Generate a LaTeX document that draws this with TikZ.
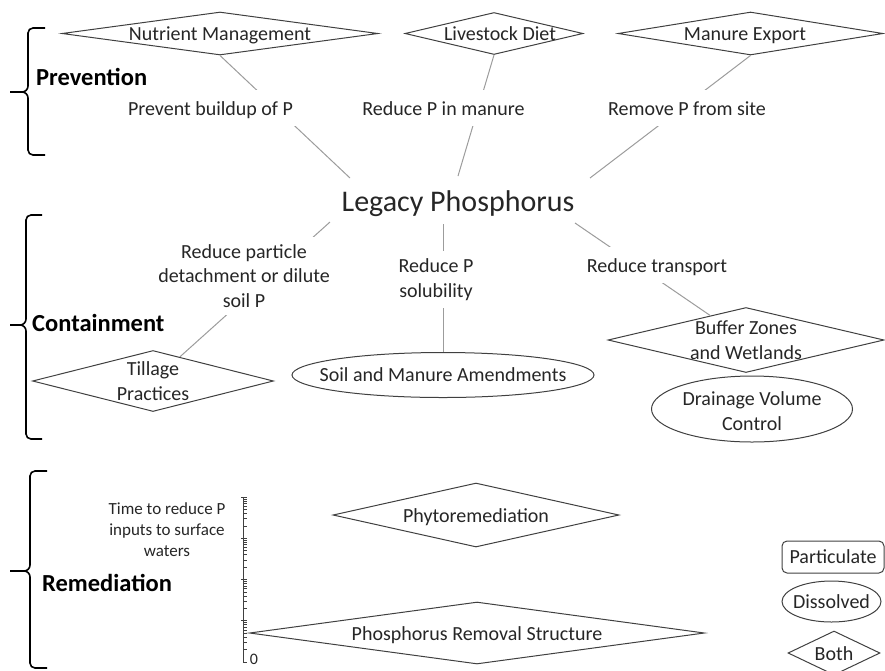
\documentclass[tikz,border=0pt]{standalone}
\usepackage{fontspec}
\setmainfont{Carlito}
\usetikzlibrary{shapes.geometric}
\definecolor{txt}{HTML}{262626}
\definecolor{edgec}{HTML}{404040}
\definecolor{connc}{HTML}{9C9C9C}
\begin{document}
\begin{tikzpicture}[x=1pt,y=-1pt,
  every node/.style={text=txt, font=\fontsize{20}{24.4}\selectfont},
  dia/.style={draw=edgec, line width=1pt, shape=diamond, inner sep=-8pt, align=center},
  oneline/.style={text height=17pt, text depth=3pt},
  lbl/.style={fill=white, inner xsep=4pt, inner ysep=8pt, align=center},
  cline/.style={draw=connc, line width=1pt},
  bracepath/.style={draw=black, line width=1.6pt},
  head/.style={font=\fontsize{24.5}{28}\selectfont\bfseries, text=black, anchor=west, inner sep=0pt},
  plain/.style={draw=none, inner sep=0pt, align=center},
  ell/.style={draw=edgec, line width=1pt},
  axisline/.style={draw=edgec, line width=1pt},
  tickline/.style={draw=edgec, line width=0.6pt},
]
\useasboundingbox (0,0) rectangle (885,670);

% braces
\draw[bracepath] (45,28) -- (33,28) to[out=180,in=90] (28,33) -- (28,86) to[out=-90,in=0] (22,92) -- (10,92);
\draw[bracepath] (10,92) -- (22,92) to[out=0,in=90] (28,98) -- (28,150) to[out=-90,in=180] (33,155) -- (45,155);
\draw[bracepath] (42,215) -- (31,215) to[out=180,in=90] (26,220) -- (26,319) to[out=-90,in=0] (20,325) -- (10,325);
\draw[bracepath] (10,325) -- (20,325) to[out=0,in=90] (26,331) -- (26,434) to[out=-90,in=180] (31,439) -- (42,439);
\draw[bracepath] (47,471) -- (35,471) to[out=180,in=90] (30,476) -- (30,565) to[out=-90,in=0] (24,571) -- (10,571);
\draw[bracepath] (10,571) -- (24,571) to[out=0,in=90] (30,577) -- (30,663) to[out=-90,in=180] (35,668) -- (47,668);

% headings
\node[head] (prev) at (36,77) {Prevention};
\node[head] (cont) at (32,323) {Containment};
\node[head] (rem) at (42,583) {Remediation};

% central node
\node[plain, font=\fontsize{30}{36}\selectfont] (lp) at (458,204) {Legacy Phosphorus};
\coordinate (lpnw) at (350,178);
\coordinate (lpn) at (458,176);
\coordinate (lpne) at (590,178);
\coordinate (lpsw) at (330,222);
\coordinate (lps) at (443,224);
\coordinate (lpse) at (575,223);

% prevention
\node[dia, oneline, minimum width=316, minimum height=43, aspect=7.3] (nm) at (220,33.5) {Nutrient Management};
\node[dia, oneline, minimum width=178, minimum height=42, aspect=4.2] (ld) at (494,33.5) {\hspace{12pt}Livestock Diet};
\node[dia, oneline, minimum width=265, minimum height=43, aspect=6.2] (me) at (750.5,33.5) {Manure Export\hspace{11pt}};
\draw[cline] (nm.south) -- (lpnw);
\draw[cline] (ld.south) -- (lpn);
\draw[cline] (me.south) -- (lpne);
\node[lbl, oneline] (l1) at (210.5,108) {Prevent buildup of P};
\node[lbl, oneline] (l2) at (443.5,108) {Reduce P in manure};
\node[lbl, oneline] (l3) at (687,108) {Remove P from site};

% containment
\node[dia, minimum width=241, minimum height=61, aspect=3.95] (till) at (153,381) {Tillage\\Practices};
\node[plain, minimum width=302, minimum height=45] (soil) at (443,375) {Soil and Manure Amendments};
\draw[ell] (soil.center) ellipse [x radius=151pt, y radius=22.5pt];
\node[dia, minimum width=276, minimum height=65, aspect=4.25] (buf) at (746,340) {Buffer Zones\\and Wetlands};
\node[plain, minimum width=201, minimum height=66] (drain) at (752,411) {Drainage Volume\\Control};
\draw[ell] (752,409) ellipse [x radius=100.5pt, y radius=33pt];
\draw[cline] (lpsw) -- (till);
\draw[cline] (lps) -- (soil.north);
\draw[cline] (lpse) -- (buf);
\node[lbl] (c1) at (244,276) {Reduce particle\\detachment or dilute\\soil P};
\node[lbl] (c2) at (436,279.5) {Reduce P\\solubility};
\node[lbl, oneline] (c3) at (657,265) {Reduce transport};

% remediation
\node[dia, oneline, minimum width=286, minimum height=64, aspect=4.47] (phyto) at (476,515) {Phytoremediation};
\node[dia, oneline, minimum width=455, minimum height=62, aspect=7.34] (prs) at (477,633) {Phosphorus Removal Structure};
\coordinate (axtop) at (243,497);
\coordinate (axbot) at (243,662);
\draw[axisline] (axtop) -- (axbot) -- ++(4,0);
\foreach \d in {0,1,2,3} {
  \foreach \k in {2,...,9} {
    \pgfmathsetmacro\yy{662-41.25*\d-41.25*ln(\k)/ln(10)}
    \draw[tickline] (243,\yy) -- (246.5,\yy);
  }
  \pgfmathsetmacro\yz{662-41.25*\d-41.25}
  \draw[tickline] (241,\yz) -- (247,\yz);
}
\node[plain, font=\fontsize{17}{21}\selectfont] (axlab) at (167,530) {Time to reduce P\\inputs to surface\\waters};
\node[plain, font=\fontsize{16}{19}\selectfont] (zero) at (254,659.5) {0};

% legend
\node[draw=edgec, line width=1pt, rounded corners=5pt, minimum width=102, minimum height=32, inner sep=0pt] (part) at (833,557) {Particulate};
\node[plain, minimum width=99, minimum height=41] (diss) at (831.5,601.5) {Dissolved};
\draw[ell] (diss.center) ellipse [x radius=49.5pt, y radius=20.5pt];
\node[dia, oneline, minimum width=92, minimum height=44, aspect=2.1] (both) at (834,653) {Both};
\end{tikzpicture}
\end{document}
